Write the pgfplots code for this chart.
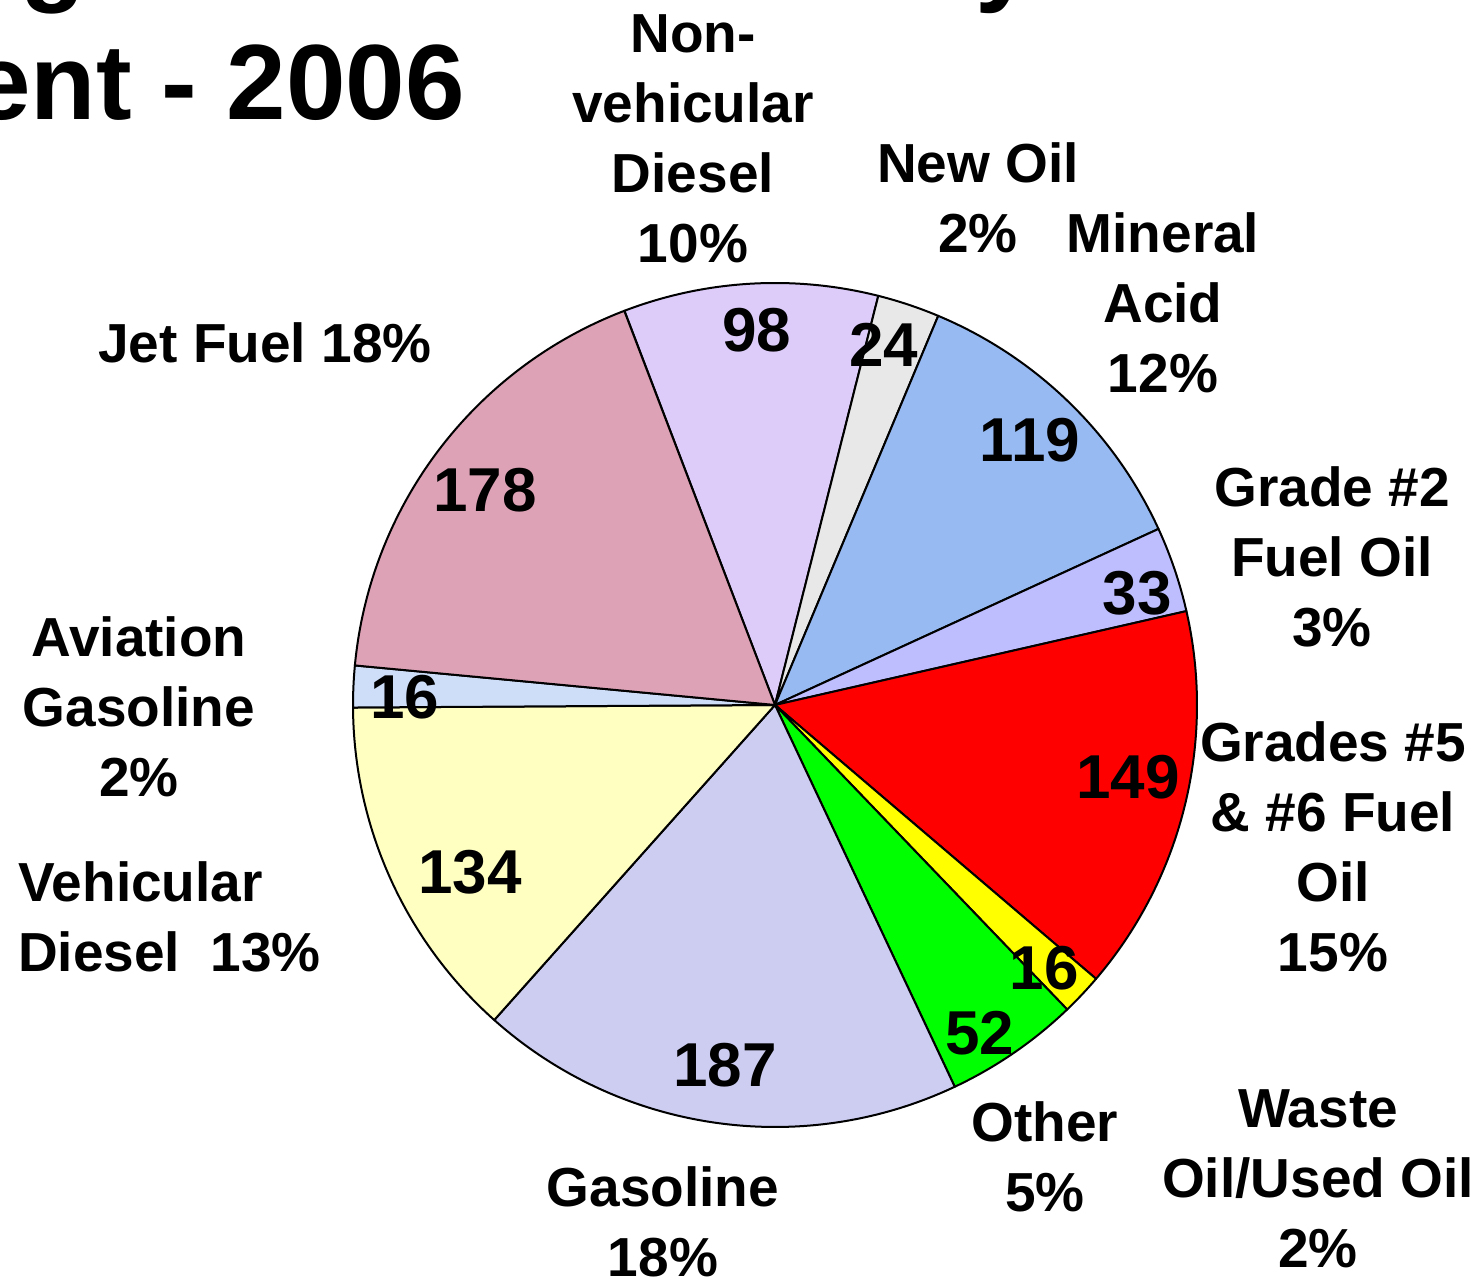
\documentclass[border=0pt]{standalone}
\usepackage{fontspec}
\setmainfont{Liberation Sans}
\usepackage{pgfplots}
\usepackage{pgfplotstable}
\pgfplotsset{compat=1.18}

\definecolor{cNV}{RGB}{221,204,250}
\definecolor{cNO}{RGB}{232,232,232}
\definecolor{cMA}{RGB}{152,186,242}
\definecolor{cGT}{RGB}{190,190,255}
\definecolor{cGF}{RGB}{255,0,0}
\definecolor{cWO}{RGB}{255,255,0}
\definecolor{cOT}{RGB}{0,255,0}
\definecolor{cGA}{RGB}{205,205,242}
\definecolor{cVD}{RGB}{255,255,194}
\definecolor{cAG}{RGB}{206,222,248}
\definecolor{cJF}{RGB}{222,162,182}

\pgfplotstableread{
name value col
NonVehicularDiesel 98 cNV
NewOil 24 cNO
MineralAcid 119 cMA
GradeTwoFuelOil 33 cGT
GradesFiveSixFuelOil 149 cGF
WasteOilUsedOil 16 cWO
Other 52 cOT
Gasoline 187 cGA
VehicularDiesel 134 cVD
AviationGasoline 16 cAG
JetFuel 178 cJF
}\piedata

\tikzset{
  lab/.style={font=\fontsize{55}{70}\selectfont\bfseries, align=center, inner sep=0pt},
  num/.style={font=\fontsize{62}{70}\selectfont\bfseries, inner sep=0pt},
}

\begin{document}
\begin{tikzpicture}
\begin{axis}[name=ax, hide axis, scale only axis, width=1480pt, height=1282pt,
  xmin=0, xmax=1480, ymin=0, ymax=1282, clip=false]
\pgfplotstablegetrowsof{\piedata}
\pgfmathtruncatemacro\nrows{\pgfplotsretval-1}
\def\total{0}
\pgfplotsforeachungrouped \i in {0,...,\nrows}{%
  \pgfplotstablegetelem{\i}{value}\of\piedata
  \pgfmathsetmacro\total{\total+\pgfplotsretval}%
}
\def\curang{110.9}
\pgfplotsforeachungrouped \i in {0,...,\nrows}{%
  \pgfplotstablegetelem{\i}{value}\of\piedata \let\sliceval\pgfplotsretval
  \pgfplotstablegetelem{\i}{col}\of\piedata \let\slicecol\pgfplotsretval
  \pgfmathsetmacro\nextang{\curang-\sliceval/\total*360}%
  \edef\cmd{\noexpand\filldraw[fill=\slicecol,draw=black,line width=2pt,line join=round]
    (axis cs:775,577) -- ++(\curang:422pt) arc[start angle=\curang,end angle=\nextang,radius=422pt] -- cycle;}%
  \cmd
  \let\curang\nextang
}

% values in slices
\node[num] at (axis cs:757,952) {98};
\node[num] at (axis cs:884,937) {24};
\node[num] at (axis cs:1030,842) {119};
\node[num] at (axis cs:1137,689) {33};
\node[num] at (axis cs:1128,505) {149};
\node[num] at (axis cs:1044,314) {16};
\node[num] at (axis cs:980,249) {52};
\node[num] at (axis cs:725,217) {187};
\node[num] at (axis cs:470,410) {134};
\node[num] at (axis cs:405,585) {16};
\node[num] at (axis cs:485,792) {178};

% category labels
\node[lab] at (axis cs:693,1143) {Non-\\vehicular\\Diesel\\10\%};
\node[lab] at (axis cs:978,1084) {New Oil\\2\%};
\node[lab] at (axis cs:1163,979) {Mineral\\Acid\\12\%};
\node[lab] at (axis cs:1332,725) {Grade \#2\\Fuel Oil\\3\%};
\node[lab] at (axis cs:1333,435) {Grades \#5\\\& \#6 Fuel\\Oil\\15\%};
\node[lab] at (axis cs:1318,103) {Waste\\Oil/Used Oil\\2\%};
\node[lab] at (axis cs:1045,125) {Other\\5\%};
\node[lab] at (axis cs:663,60) {Gasoline\\18\%};
\node[lab, align=left, anchor=west] at (axis cs:18,365) {Vehicular\\Diesel~~13\%};
\node[lab] at (axis cs:139,575) {Aviation\\Gasoline\\2\%};
\node[lab] at (axis cs:265,939) {Jet Fuel 18\%};

% title (cut by the page edge)
\node[font=\fontsize{107}{128}\selectfont\bfseries, inner sep=0pt, anchor=base east] at (axis cs:1035,1290) {Barging Volume Hauled by};
\node[font=\fontsize{107}{128}\selectfont\bfseries, inner sep=0pt, anchor=base east] at (axis cs:465,1162) {Segment - 2006};
\end{axis}
\pgfresetboundingbox
\path[use as bounding box] (ax.south west) rectangle (ax.north east);
\end{tikzpicture}
\end{document}
